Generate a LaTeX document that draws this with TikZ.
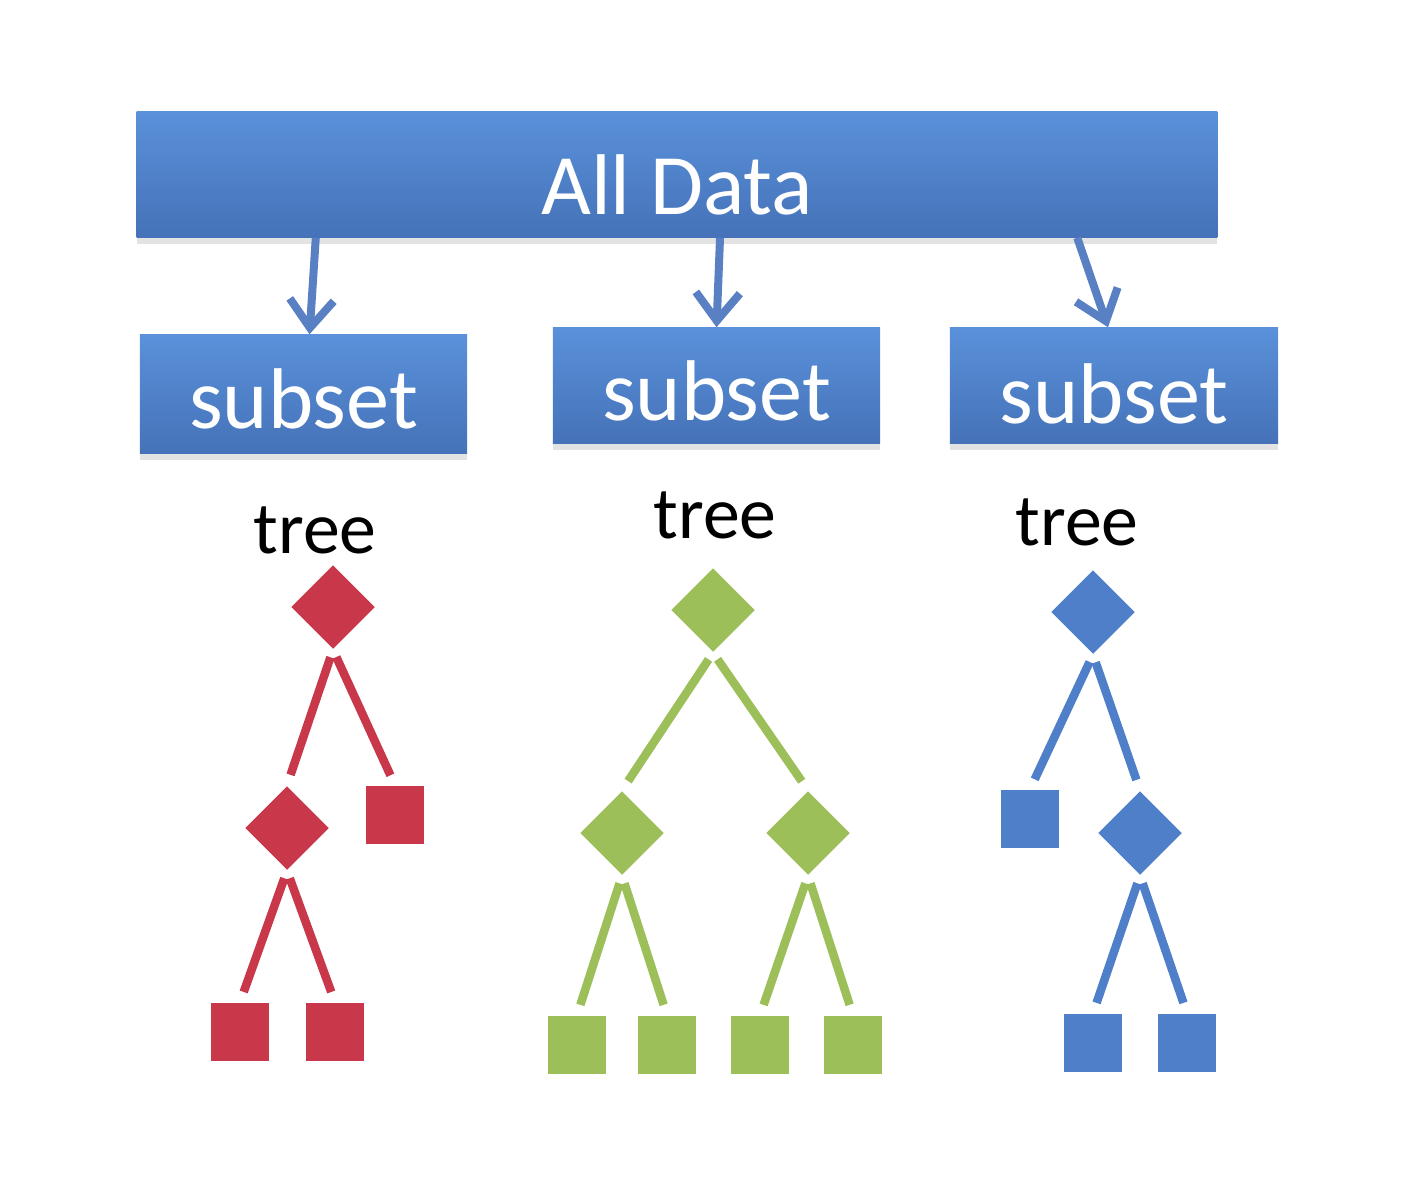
\documentclass[tikz,border=0pt]{standalone}
\usepackage{fontspec}
\setmainfont{Carlito}
\usetikzlibrary{shapes.geometric,arrows.meta,shadows}
\definecolor{boxtop}{HTML}{5A91DA}
\definecolor{boxbot}{HTML}{4572B8}
\definecolor{arrc}{HTML}{5A80C4}
\definecolor{tred}{HTML}{C8384A}
\definecolor{tgreen}{HTML}{9CBF5A}
\definecolor{tblue}{HTML}{4F7FC8}
\begin{document}
\begin{tikzpicture}[x=0.01cm,y=-0.01cm,
  bluebox/.style={rectangle, top color=boxtop, bottom color=boxbot, inner sep=0pt,
    drop shadow={shadow xshift=0pt, shadow yshift=-2pt, opacity=0.18, fill=black!60}},
  boxtext/.style={text=white, font=\fontsize{24.5}{28}\selectfont},
  treelabel/.style={text=black, font=\fontsize{21}{24}\selectfont, inner sep=0pt},
  arr/.style={arrc, line width=0.08cm, -{Straight Barb[length=0.28cm, width=0.44cm]}},
  dnode/.style={diamond, inner sep=0pt, minimum width=0.84cm, minimum height=0.84cm, fill=#1},
  snode/.style={rectangle, inner sep=0pt, minimum size=0.58cm, fill=#1},
  tline/.style={#1, line width=0.085cm, shorten <=0.08cm, shorten >=0.11cm}
]
\useasboundingbox (0,0) rectangle (1425,1200);

% boxes
\node[bluebox, minimum width=10.8cm, minimum height=1.25cm,
  label={[boxtext, yshift=-0.1cm]center:All Data}] (all) at (677,174.5) {};
\node[bluebox, minimum width=3.27cm, minimum height=1.18cm,
  label={[boxtext, yshift=-0.05cm]center:subset}] (s1) at (303.5,394) {};
\node[bluebox, minimum width=3.27cm, minimum height=1.15cm,
  label={[boxtext, yshift=-0.05cm]center:subset}] (s2) at (716.5,385.5) {};
\node[bluebox, minimum width=3.28cm, minimum height=1.15cm,
  label={[boxtext, yshift=-0.08cm]center:subset}] (s3) at (1114,385.5) {};

% arrows
\draw[arr] ([xshift=-3.61cm]all.south) -- ([xshift=0.06cm]s1.north);
\draw[arr] ([xshift=0.43cm]all.south) -- ([xshift=0cm]s2.north);
\draw[arr] ([xshift=4.0cm]all.south) -- ([xshift=-0.06cm]s3.north);

% labels
\node[treelabel] (t1) at (315,530) {tree};
\node[treelabel] (t2) at (715,515) {tree};
\node[treelabel] (t3) at (1077,522) {tree};

% red tree
\node[dnode=tred] (r0) at (333,607) {};
\node[dnode=tred] (r1) at (287,828) {};
\node[snode=tred] (r2) at (395,815) {};
\node[snode=tred] (r3) at (240,1032) {};
\node[snode=tred] (r4) at (335,1032) {};
\draw[tline=tred] (r0.south) -- (r1.north);
\draw[tline=tred] (r0.south) -- (r2.north);
\draw[tline=tred] (r1.south) -- (r3.north);
\draw[tline=tred] (r1.south) -- (r4.north);

% green tree
\node[dnode=tgreen] (g0) at (713,610) {};
\node[dnode=tgreen] (g1) at (622,833) {};
\node[dnode=tgreen] (g2) at (808,833) {};
\node[snode=tgreen] (g3) at (577,1045) {};
\node[snode=tgreen] (g4) at (667,1045) {};
\node[snode=tgreen] (g5) at (760,1045) {};
\node[snode=tgreen] (g6) at (853,1045) {};
\draw[tline=tgreen] (g0.south) -- (g1.north);
\draw[tline=tgreen] (g0.south) -- (g2.north);
\draw[tline=tgreen] (g1.south) -- (g3.north);
\draw[tline=tgreen] (g1.south) -- (g4.north);
\draw[tline=tgreen] (g2.south) -- (g5.north);
\draw[tline=tgreen] (g2.south) -- (g6.north);

% blue tree
\node[dnode=tblue] (b0) at (1093,612) {};
\node[snode=tblue] (b1) at (1030,819) {};
\node[dnode=tblue] (b2) at (1140,833) {};
\node[snode=tblue] (b3) at (1093,1043) {};
\node[snode=tblue] (b4) at (1187,1043) {};
\draw[tline=tblue] (b0.south) -- (b1.north);
\draw[tline=tblue] (b0.south) -- (b2.north);
\draw[tline=tblue] (b2.south) -- (b3.north);
\draw[tline=tblue] (b2.south) -- (b4.north);
\end{tikzpicture}
\end{document}
